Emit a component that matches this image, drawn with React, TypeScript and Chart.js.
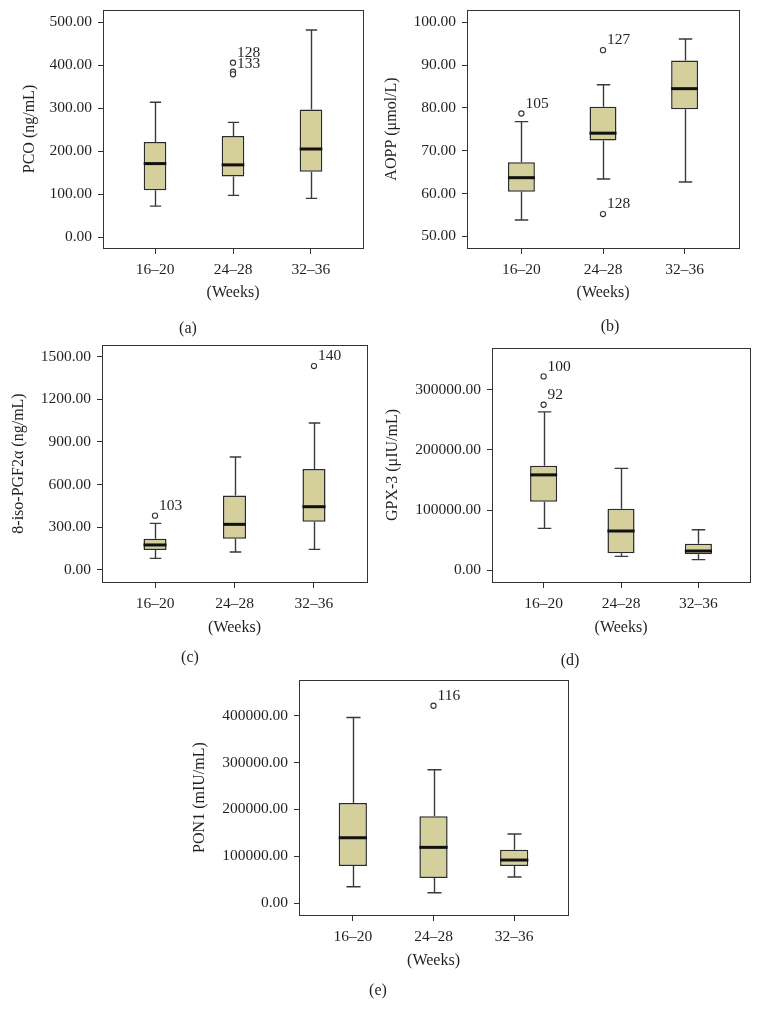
import React, { useEffect, useRef } from 'react';
import { Chart, registerables } from 'chart.js';

Chart.register(...registerables);

// ---------- data ----------
const weeks = ['16–20', '24–28', '32–36'];

// each row: [lower whisker, Q1, median, Q3, upper whisker] for one week group
const pcoStats = [
  [72, 109, 171, 221, 314],
  [97, 141, 168, 235, 267],
  [90, 152, 205, 297, 482],
];
// [group index, value, case label]
const pcoOutliers: [number, number, string][] = [
  [1, 406, '128'],
  [1, 385, ''],
  [1, 379, '133'],
];
const pcoTicks = [0, 100, 200, 300, 400, 500];

const aoppStats = [
  [53.8, 60.4, 63.7, 67.3, 76.8],
  [63.4, 72.4, 74.1, 80.3, 85.4],
  [62.7, 79.7, 84.5, 91.1, 96.1],
];
const aoppOutliers: [number, number, string][] = [
  [0, 78.7, '105'],
  [1, 93.5, '127'],
  [1, 55.2, '128'],
];
const aoppTicks = [50, 60, 70, 80, 90, 100];

const isoStats = [
  [82, 141, 176, 220, 328],
  [127, 220, 321, 523, 795],
  [145, 340, 445, 710, 1034],
];
const isoOutliers: [number, number, string][] = [
  [0, 382, '103'],
  [2, 1434, '140'],
];
const isoTicks = [0, 300, 600, 900, 1200, 1500];

const gpxStats = [
  [69700, 114000, 158500, 173800, 263200],
  [23200, 28200, 65300, 102400, 169300],
  [17700, 26600, 32100, 44300, 67500],
];
const gpxOutliers: [number, number, string][] = [
  [0, 322000, '100'],
  [0, 275000, '92'],
];
const gpxTicks = [0, 100000, 200000, 300000];

const ponStats = [
  [34800, 79000, 139400, 213500, 396400],
  [22000, 53400, 118900, 185100, 284600],
  [55500, 79000, 91800, 113800, 147300],
];
const ponOutliers: [number, number, string][] = [[1, 421400, '116']];
const ponTicks = [0, 100000, 200000, 300000, 400000];

// ---------- layout / style ----------
const FONT = "'Liberation Serif', 'DejaVu Serif', serif";
const TEXT = '#231f20';
const BOX_FILL = '#d4cf9b';
const TICK_SIZE = 15.5;
const TITLE_SIZE = 16;

type Panel = {
  letter: string;
  stats: number[][];
  outliers: [number, number, string][];
  ticks: number[];
  yTitle: string;
  yMin: number;
  yMax: number;
  box: { left: number; top: number; w: number; h: number };
  area: { l: number; t: number; r: number; b: number };
  yTitleX: number;
  xTitleY: number;
  letterPos: [number, number];
  barPct: number;
};

const panels: Panel[] = [
  {
    letter: '(a)', stats: pcoStats, outliers: pcoOutliers, ticks: pcoTicks, yTitle: 'PCO (ng/mL)',
    yMin: -25.6, yMax: 528.7,
    box: { left: 0, top: 0, w: 380, h: 340 }, area: { l: 103, t: 10, r: 363, b: 248 },
    yTitleX: 30, xTitleY: 293, letterPos: [188, 329], barPct: 0.29,
  },
  {
    letter: '(b)', stats: aoppStats, outliers: aoppOutliers, ticks: aoppTicks, yTitle: 'AOPP (μmol/L)',
    yMin: 47.27, yMax: 102.88,
    box: { left: 380, top: 0, w: 381, h: 340 }, area: { l: 467, t: 10, r: 739, b: 248 },
    yTitleX: 392, xTitleY: 293, letterPos: [610, 327], barPct: 0.33,
  },
  {
    letter: '(c)', stats: isoStats, outliers: isoOutliers, ticks: isoTicks, yTitle: '8-iso-PGF2α (ng/mL)',
    yMin: -84.4, yMax: 1582,
    box: { left: 0, top: 335, w: 380, h: 340 }, area: { l: 102, t: 345, r: 367, b: 582 },
    yTitleX: 19, xTitleY: 628, letterPos: [190, 658], barPct: 0.29,
  },
  {
    letter: '(d)', stats: gpxStats, outliers: gpxOutliers, ticks: gpxTicks, yTitle: 'GPX-3 (μIU/mL)',
    yMin: -19380, yMax: 369200,
    box: { left: 380, top: 335, w: 381, h: 340 }, area: { l: 492, t: 348, r: 750, b: 582 },
    yTitleX: 393, xTitleY: 628, letterPos: [570, 661], barPct: 0.35,
  },
  {
    letter: '(e)', stats: ponStats, outliers: ponOutliers, ticks: ponTicks, yTitle: 'PON1 (mIU/mL)',
    yMin: -25600, yMax: 476170,
    box: { left: 190, top: 675, w: 390, h: 348 }, area: { l: 299, t: 680, r: 568, b: 915 },
    yTitleX: 200, xTitleY: 961, letterPos: [378, 991], barPct: 0.35,
  },
];

function makeBoxPlugin(p: Panel) {
  return {
    id: 'boxExtras',
    beforeDatasetsDraw(chart: any) {
      const { ctx, scales } = chart;
      const x = scales.x;
      const y = scales.y;
      const meta = chart.getDatasetMeta(0);
      ctx.save();
      ctx.strokeStyle = '#3a3a3a';
      ctx.lineWidth = 1.4;
      p.stats.forEach((s, i) => {
        const bar = meta.data[i];
        const cx = Math.round(x.getPixelForValue(i)) + 0.5;
        const half = bar.width / 4;
        const yl = y.getPixelForValue(s[0]);
        const y1 = y.getPixelForValue(s[1]);
        const y3 = y.getPixelForValue(s[3]);
        const yh = y.getPixelForValue(s[4]);
        ctx.beginPath();
        ctx.moveTo(cx, yl);
        ctx.lineTo(cx, y1);
        ctx.moveTo(cx, y3);
        ctx.lineTo(cx, yh);
        ctx.moveTo(cx - half, yl);
        ctx.lineTo(cx + half, yl);
        ctx.moveTo(cx - half, yh);
        ctx.lineTo(cx + half, yh);
        ctx.stroke();
      });
      ctx.restore();
    },
    afterDatasetsDraw(chart: any) {
      const { ctx, scales } = chart;
      const y = scales.y;
      const meta = chart.getDatasetMeta(0);
      ctx.save();
      ctx.strokeStyle = '#111';
      ctx.lineWidth = 3;
      p.stats.forEach((s, i) => {
        const bar = meta.data[i];
        const ym = y.getPixelForValue(s[2]);
        ctx.beginPath();
        ctx.moveTo(bar.x - bar.width / 2, ym);
        ctx.lineTo(bar.x + bar.width / 2, ym);
        ctx.stroke();
      });
      // outlier case labels
      const pts = chart.getDatasetMeta(1);
      ctx.fillStyle = TEXT;
      ctx.font = `${TICK_SIZE}px ${FONT}`;
      ctx.textAlign = 'left';
      ctx.textBaseline = 'middle';
      p.outliers.forEach((o, i) => {
        if (!o[2]) return;
        const pt = pts.data[i];
        ctx.fillText(o[2], pt.x + 4, pt.y - 10);
      });
      ctx.restore();
    },
    afterDraw(chart: any) {
      const { ctx, chartArea } = chart;
      ctx.save();
      ctx.strokeStyle = '#333';
      ctx.lineWidth = 1;
      ctx.strokeRect(
        Math.round(chartArea.left) + 0.5,
        Math.round(chartArea.top) + 0.5,
        Math.round(chartArea.right - chartArea.left),
        Math.round(chartArea.bottom - chartArea.top)
      );
      ctx.fillStyle = TEXT;
      ctx.font = `${TITLE_SIZE}px ${FONT}`;
      ctx.textAlign = 'center';
      ctx.textBaseline = 'middle';
      ctx.fillText(p.letter, p.letterPos[0] - p.box.left, p.letterPos[1] - p.box.top);
      ctx.restore();
    },
  };
}

function BoxPanel({ p }: { p: Panel }) {
  const ref = useRef<HTMLCanvasElement | null>(null);

  useEffect(() => {
    if (!ref.current) return;
    const yW = p.area.l - p.box.left;
    const padTop = p.area.t - p.box.top;
    const padRight = p.box.left + p.box.w - p.area.r;
    const xH = p.box.top + p.box.h - p.area.b;
    const titleLH = TITLE_SIZE * 1.2;
    const yTitlePad = p.yTitleX - p.box.left - titleLH / 2;
    const xTitlePad = p.box.top + p.box.h - p.xTitleY - titleLH / 2;

    const chart = new Chart(ref.current, {
      type: 'bar',
      data: {
        datasets: [
          {
            type: 'bar',
            data: p.stats.map((s, i) => ({ x: i, y: [s[1], s[3]] })) as any,
            backgroundColor: BOX_FILL,
            borderColor: '#2b2b2b',
            borderWidth: 1.5,
            borderSkipped: false,
            barPercentage: p.barPct,
            categoryPercentage: 1,
          } as any,
          {
            type: 'scatter',
            data: p.outliers.map((o) => ({ x: o[0], y: o[1] })),
            pointRadius: 2.6,
            pointBorderWidth: 1.1,
            borderColor: '#333',
            backgroundColor: '#fff',
            showLine: false,
          } as any,
        ],
      },
      options: {
        responsive: false,
        animation: false,
        events: [],
        layout: { padding: { left: 0, top: padTop, right: padRight, bottom: 0 } },
        plugins: { legend: { display: false }, tooltip: { enabled: false }, title: { display: false } },
        scales: {
          x: {
            type: 'linear',
            min: -0.667,
            max: 2.667,
            bounds: 'data',
            offset: false,
            afterBuildTicks: (s: any) => {
              s.ticks = weeks.map((_, i) => ({ value: i }));
            },
            afterFit: (s: any) => {
              s.height = xH;
              s.paddingLeft = 0;
              s.paddingRight = 0;
              s.paddingTop = 0;
              s.paddingBottom = 0;
            },
            ticks: {
              autoSkip: false,
              maxRotation: 0,
              padding: 7,
              color: TEXT,
              font: { family: FONT, size: TICK_SIZE },
              callback: (v: any) => weeks[Math.round(Number(v))] ?? '',
            },
            grid: { display: true, offset: false, drawOnChartArea: false, drawTicks: true, tickLength: 6, color: '#333', lineWidth: 1 },
            border: { display: false },
            title: {
              display: true,
              text: '(Weeks)',
              color: TEXT,
              font: { family: FONT, size: TITLE_SIZE },
              padding: { top: 0, bottom: xTitlePad },
            },
          },
          y: {
            type: 'linear',
            min: p.yMin,
            max: p.yMax,
            bounds: 'data',
            afterBuildTicks: (s: any) => {
              s.ticks = p.ticks.map((v) => ({ value: v }));
            },
            afterFit: (s: any) => {
              s.width = yW;
              s.paddingLeft = 0;
              s.paddingRight = 0;
              s.paddingTop = 0;
              s.paddingBottom = 0;
            },
            ticks: {
              autoSkip: false,
              padding: 6,
              color: TEXT,
              font: { family: FONT, size: TICK_SIZE },
              callback: (v: any) => Number(v).toFixed(2),
            },
            grid: { display: true, drawOnChartArea: false, drawTicks: true, tickLength: 5, color: '#333', lineWidth: 1 },
            border: { display: false },
            title: {
              display: true,
              text: p.yTitle,
              color: TEXT,
              font: { family: FONT, size: TITLE_SIZE },
              padding: { top: yTitlePad, bottom: 0 },
            },
          },
        },
      } as any,
      plugins: [makeBoxPlugin(p)],
    });
    return () => chart.destroy();
  }, [p]);

  return (
    <canvas
      ref={ref}
      width={p.box.w}
      height={p.box.h}
      style={{ position: 'absolute', left: p.box.left, top: p.box.top, width: p.box.w, height: p.box.h }}
    />
  );
}

export default function App() {
  return (
    <div style={{ position: 'absolute', left: 0, top: 0, width: 761, height: 1023, background: '#fff' }}>
      {panels.map((p) => (
        <BoxPanel key={p.letter} p={p} />
      ))}
    </div>
  );
}
